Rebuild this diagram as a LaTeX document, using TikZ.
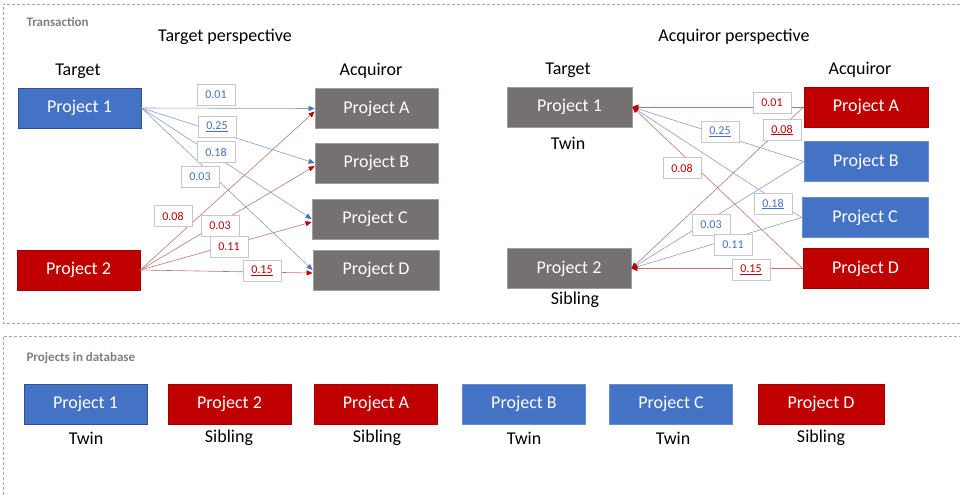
\documentclass[tikz,border=0pt]{standalone}
\usepackage{fontspec}
\setmainfont{Carlito}
\usetikzlibrary{arrows.meta}
\definecolor{pblue}{HTML}{4472C4}
\definecolor{pbluedark}{HTML}{2F528F}
\definecolor{pred}{HTML}{C00000}
\definecolor{pgray}{HTML}{767171}
\definecolor{lblue}{HTML}{8A9DC4}
\definecolor{lred}{HTML}{C07472}
\definecolor{frame}{HTML}{A6A6A6}
\definecolor{sect}{HTML}{7F7F7F}
\tikzset{
  proj/.style={minimum width=123pt, minimum height=40pt, inner sep=0pt, text=white, font=\fontsize{18}{20}\selectfont},
  bluebox/.style={proj, fill=pblue, draw=pbluedark, line width=0.8pt},
  lbluebox/.style={proj, fill=pblue, draw=pblue!80!white, line width=0.6pt},
  redbox/.style={proj, fill=pred, draw=pred!85!black, line width=0.6pt},
  graybox/.style={proj, fill=pgray, draw=pgray!70!white, line width=0.8pt},
  lab/.style={draw=black!22, fill=white, minimum width=38pt, minimum height=21pt, inner sep=0pt, font=\fontsize{12}{14}\selectfont},
  bluelab/.style={lab, text=pblue},
  redlab/.style={lab, text=pred},
  heading/.style={font=\fontsize{18}{20}\selectfont, text=black},
  sectitle/.style={font=\fontsize{13}{15}\selectfont\bfseries, text=sect, anchor=west},
  barrow/.style={draw=lblue, line width=0.6pt, -{Triangle[length=6pt,width=5pt,color=pblue]}},
  rarrow/.style={draw=lred, line width=0.6pt, -{Triangle[length=6pt,width=5pt,color=pred]}},
  framebox/.style={draw=frame, line width=0.7pt, dash pattern=on 3pt off 2pt}
}
\begin{document}
\begin{tikzpicture}[x=1pt,y=-1pt]
\useasboundingbox (0,0) rectangle (960,496);
% frames
\draw[framebox] (970,323) -- (3,323) -- (3,4) -- (970,4);
\draw[framebox] (3,500) -- (3,336) -- (970,336);
\node[sectitle] (tx) at (23,22) {Transaction};
\node[sectitle] (pdb) at (23,358) {Projects in database};

% ---- Target perspective
\node[heading] (tp) at (225,37) {Target perspective};
\node[heading] (ht1) at (78,71) {Target};
\node[heading] (ha1) at (371,71) {Acquiror};
\node[bluebox] (L1) at (79.5,108) {Project 1};
\node[redbox] (L2) at (78.5,270) {Project 2};
\node[graybox] (LA) at (376.5,108.5) {Project A};
\node[graybox] (LB) at (376.5,163) {Project B};
\node[graybox, minimum width=126pt] (LC) at (375,219) {Project C};
\node[graybox, minimum width=126pt] (LD) at (376,270) {Project D};

\draw[barrow] (L1.east) -- (LA.west);
\draw[barrow] (L1.east) -- (LB.west);
\draw[barrow] (L1.east) -- (LC.west);
\draw[barrow] (L1.east) -- (LD.west);
\draw[rarrow] (L2.east) -- ([yshift=-3pt]LA.west);
\draw[rarrow] (L2.east) -- ([yshift=-3pt]LB.west);
\draw[rarrow] (L2.east) -- ([yshift=-3pt]LC.west);
\draw[rarrow] (L2.east) -- ([yshift=-3pt]LD.west);

\node[bluelab] (l01) at (216,95) {0.01};
\node[bluelab] (l25) at (217,127) {\underline{0.25}};
\node[bluelab] (l18) at (216,152) {0.18};
\node[bluelab] (l03b) at (200,177) {0.03};
\node[redlab] (l08) at (173,216) {0.08};
\node[redlab] (l03r) at (220,226) {0.03};
\node[redlab] (l11) at (229,247) {0.11};
\node[redlab] (l15) at (262,271) {\underline{0.15}};

% ---- Acquiror perspective
\node[heading] (ap) at (734,37) {Acquiror perspective};
\node[heading] (ht2) at (568,70) {Target};
\node[heading] (ha2) at (860,70) {Acquiror};
\node[graybox, minimum width=125pt] (R1) at (569.5,107) {Project 1};
\node[graybox, minimum width=124pt] (R2) at (569,268.5) {Project 2};
\node[heading] (tw) at (568,143) {Twin};
\node[heading] (sb) at (575,300) {Sibling};
\node[redbox, minimum width=124pt] (RA) at (866,107) {Project A};
\node[lbluebox, minimum width=124pt] (RB) at (866,161.5) {Project B};
\node[lbluebox, minimum width=126pt] (RC) at (865,217.5) {Project C};
\node[redbox, minimum width=125pt] (RD) at (865.5,268.5) {Project D};

\draw[barrow] (RB.west) -- (R1.east);
\draw[barrow] (RB.west) -- (R2.east);
\draw[barrow] (RC.west) -- (R1.east);
\draw[barrow] (RC.west) -- (R2.east);
\draw[rarrow] (RA.west) -- (R1.east);
\draw[rarrow] (RA.west) -- (R2.east);
\draw[rarrow] (RD.west) -- (R1.east);
\draw[rarrow] (RD.west) -- (R2.east);

\node[redlab] (r01) at (772,103) {0.01};
\node[redlab] (r08u) at (782,130) {\underline{0.08}};
\node[bluelab] (r25) at (720,132) {\underline{0.25}};
\node[redlab] (r08) at (682,168) {0.08};
\node[bluelab] (r18) at (773,204) {\underline{0.18}};
\node[bluelab] (r03) at (711,225) {0.03};
\node[bluelab] (r11) at (733,245) {0.11};
\node[redlab] (r15) at (751,270) {\underline{0.15}};

% ---- Projects in database
\node[bluebox] (B1) at (85.5,404) {Project 1};
\node[redbox] (B2) at (229.5,404) {Project 2};
\node[redbox] (BA) at (376,404) {Project A};
\node[lbluebox] (BB) at (524,404) {Project B};
\node[lbluebox] (BC) at (671,404) {Project C};
\node[redbox, minimum width=126pt] (BD) at (821,404) {Project D};
\node[heading] (t1) at (86,438) {Twin};
\node[heading] (t2) at (229,438) {Sibling};
\node[heading] (t3) at (377,438) {Sibling};
\node[heading] (t4) at (524,438) {Twin};
\node[heading] (t5) at (673,438) {Twin};
\node[heading] (t6) at (821,438) {Sibling};
\end{tikzpicture}
\end{document}
